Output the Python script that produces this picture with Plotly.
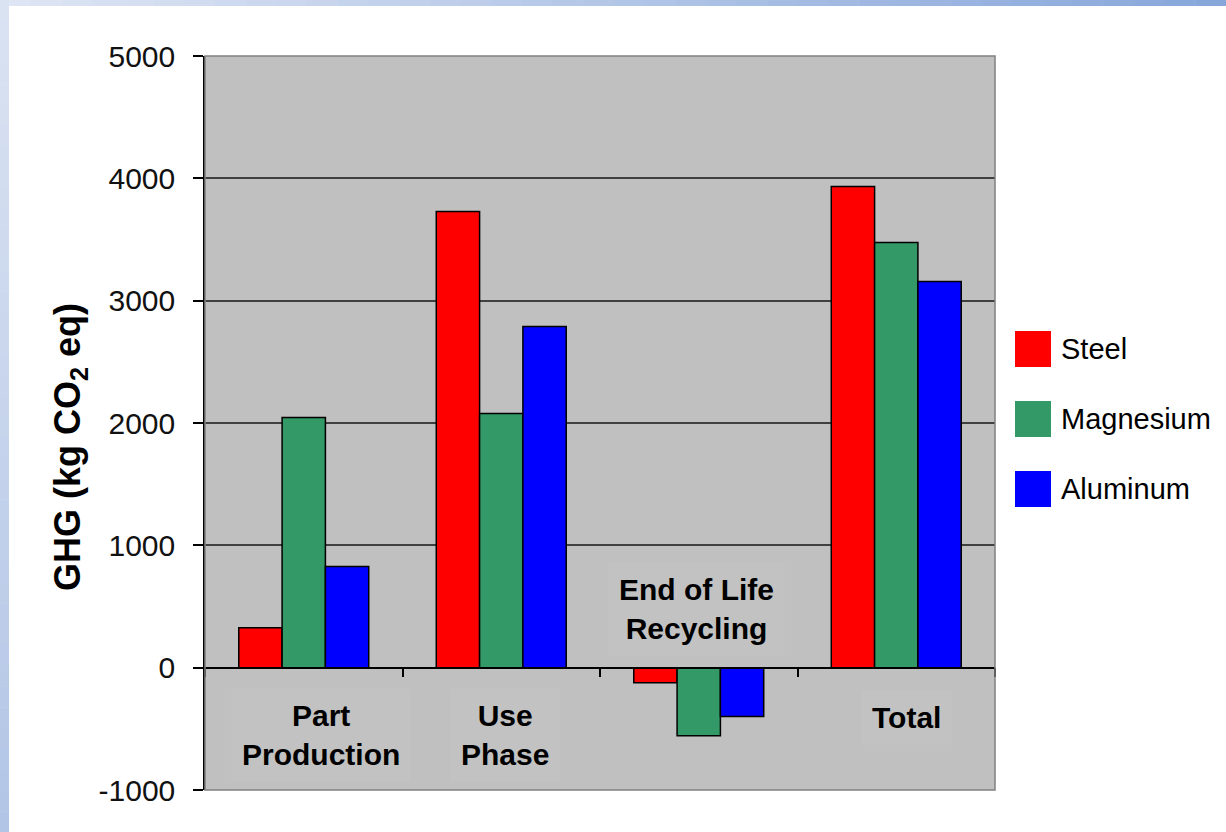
import plotly.graph_objects as go

# ---- data ----
categories = ["Part Production", "Use Phase", "End of Life Recycling", "Total"]
category_labels = ["Part<br>Production", "Use<br>Phase", "End of Life<br>Recycling", "Total"]
series_names = ["Steel", "Magnesium", "Aluminum"]
steel = [327, 3728, -123, 3933]
magnesium = [2044, 2077, -556, 3475]
aluminum = [826, 2788, -400, 3156]
series_colors = ["#FF0000", "#339966", "#0000FF"]
y_ticks = [-1000, 0, 1000, 2000, 3000, 4000, 5000]

W, H = 1226, 832
L, R, T, B = 205, 995, 56, 790
FONT = "Liberation Sans, Arial, sans-serif"


def px2x(px):
    return (px - L) / (R - L)


def py2y(py):
    return (B - py) / (B - T)


fig = go.Figure()
for name, vals, col in zip(series_names, [steel, magnesium, aluminum], series_colors):
    fig.add_trace(go.Bar(
        x=categories, y=vals, name=name, showlegend=False,
        marker=dict(color=col, line=dict(color="#000000", width=1.5)),
    ))

shapes = []


def lerp(c1, c2, t):
    a = [int(c1[i:i + 2], 16) for i in (1, 3, 5)]
    b = [int(c2[i:i + 2], 16) for i in (1, 3, 5)]
    return "#%02x%02x%02x" % tuple(round(a[k] + (b[k] - a[k]) * t) for k in range(3))


# slide-like gradient bands
n = 40
for i in range(n):
    x0 = W * i / n
    x1 = W * (i + 1) / n + 0.5
    shapes.append(dict(type="rect", xref="paper", yref="paper", layer="below",
                       x0=px2x(x0), x1=px2x(x1), y0=py2y(6), y1=py2y(0),
                       fillcolor=lerp("#dfe6f4", "#86a6da", (i + 0.5) / n), line=dict(width=0)))
for i in range(n):
    y0 = H * i / n
    y1 = H * (i + 1) / n + 0.5
    shapes.append(dict(type="rect", xref="paper", yref="paper", layer="below",
                       x0=px2x(0), x1=px2x(9), y0=py2y(y1), y1=py2y(y0),
                       fillcolor=lerp("#dbe3f2", "#b2c5e6", (i + 0.5) / n), line=dict(width=0)))

# plot border
shapes.append(dict(type="rect", xref="paper", yref="paper", x0=0, x1=1, y0=0, y1=1,
                   line=dict(color="#808080", width=1.5), layer="above"))

# manual legend
legend_rows = [349, 419, 489]
annotations = []
for name, col, cy in zip(series_names, series_colors, legend_rows):
    shapes.append(dict(type="rect", xref="paper", yref="paper",
                       x0=px2x(1015), x1=px2x(1051), y0=py2y(cy + 18), y1=py2y(cy - 18),
                       fillcolor=col, line=dict(width=0)))
    annotations.append(dict(xref="paper", yref="paper", x=px2x(1059), y=py2y(cy),
                            xanchor="left", yanchor="middle", showarrow=False,
                            text=name, font=dict(family=FONT, size=29, color="#000000")))

# category labels inside the plot
label_y = [-550, -550, 482, -409]
label_shift = [17, 4, -2, 10]
for cat, lab, yy, xs in zip(categories, category_labels, label_y, label_shift):
    annotations.append(dict(xref="x", yref="y", x=cat, y=yy, xshift=xs,
                            xanchor="center", yanchor="middle", showarrow=False,
                            text="<b>%s</b>" % lab, bgcolor="#c2c2c2", borderpad=10,
                            font=dict(family=FONT, size=30, color="#000000")))

# y axis title
annotations.append(dict(xref="paper", yref="paper", x=px2x(70), y=py2y(447),
                        xanchor="center", yanchor="middle", showarrow=False, textangle=-90,
                        text="<b>GHG (kg CO<sub>2</sub> eq)</b>",
                        font=dict(family=FONT, size=36, color="#000000")))

fig.update_layout(
    width=W, height=H,
    margin=dict(l=L, r=W - R, t=T, b=H - B, pad=0),
    paper_bgcolor="#ffffff", plot_bgcolor="#c0c0c0",
    barmode="group", bargap=0.342, bargroupgap=0,
    showlegend=False,
    shapes=shapes, annotations=annotations,
    font=dict(family=FONT),
    xaxis=dict(
        type="category", range=[-0.5, 3.5], anchor="free", position=1 / 6,
        showline=True, linecolor="#000000", linewidth=1.5,
        ticks="outside", tickson="boundaries", ticklen=9, tickwidth=1.5, tickcolor="#000000",
        showticklabels=False, showgrid=False, zeroline=False,
    ),
    yaxis=dict(
        range=[-1000, 5000], tickvals=y_ticks, ticktext=[str(v) for v in y_ticks],
        showgrid=True, gridcolor="#404040", gridwidth=1.5, zeroline=False,
        showline=True, linecolor="#000000", linewidth=1.5,
        ticks="outside", ticklen=10, tickwidth=1.5, tickcolor="#000000",
        ticklabelstandoff=12,
        tickfont=dict(family=FONT, size=30, color="#111111"),
    ),
)

fig.write_html("out.html", config={"displayModeBar": False},
               post_script="document.body.style.margin='0';document.body.style.padding='0';")
